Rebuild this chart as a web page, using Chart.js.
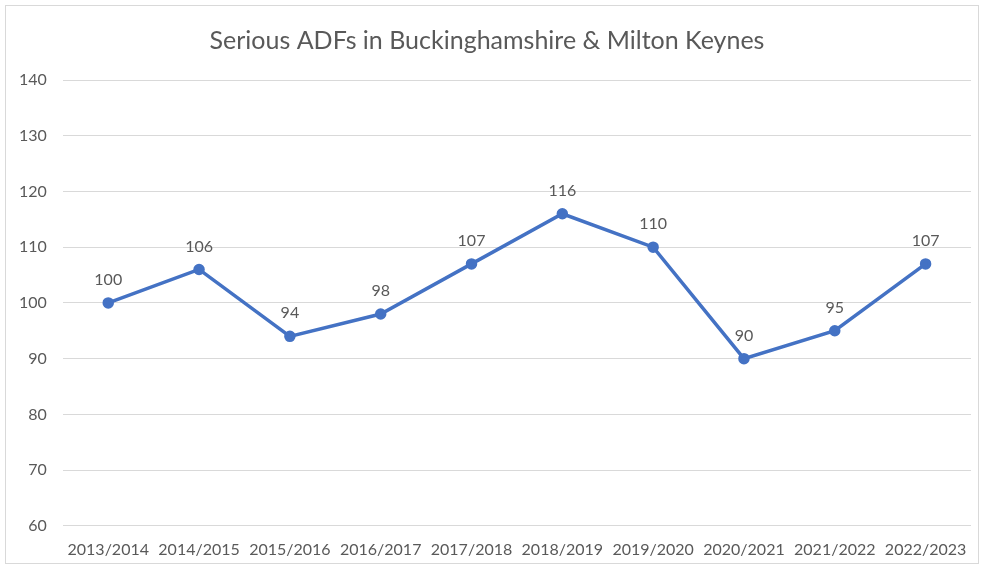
<!DOCTYPE html>
<html>
<head>
<meta charset="utf-8">
<script src="https://cdn.jsdelivr.net/npm/chart.js@4/dist/chart.umd.min.js"></script>
<style>
 html,body{margin:0;padding:0;background:#fff;}
 #wrap{position:absolute;left:0;top:0;width:984px;height:569px;}
 #frame{position:absolute;left:5px;top:5px;width:974px;height:559px;border:1px solid #d9d9d9;box-sizing:border-box;pointer-events:none;}
</style>
</head>
<body>
<div id="wrap">
 <canvas id="canvas_adf" width="984" height="569"></canvas>
 <div id="frame"></div>
</div>
<script>
/* data */
var years=['2013/2014','2014/2015','2015/2016','2016/2017','2017/2018','2018/2019','2019/2020','2020/2021','2021/2022','2022/2023'];
var adfs=[100,106,94,98,107,116,110,90,95,107];
var y_min=60, y_max=140, y_step=10;

var font_family="Lato, 'Open Sans', sans-serif";
var text_color='#595959';

/* value labels above each point */
var value_labels={
 id:'value_labels',
 afterDatasetsDraw:function(chart){
  var ctx=chart.ctx;
  var meta=chart.getDatasetMeta(0);
  var data=chart.data.datasets[0].data;
  ctx.save();
  ctx.font='16px '+font_family;
  ctx.fillStyle=text_color;
  ctx.textAlign='center';
  ctx.textBaseline='bottom';
  meta.data.forEach(function(pt,i){
   ctx.fillText(data[i],pt.x,pt.y-15);
  });
  ctx.restore();
 }
};

var ctx=document.getElementById('canvas_adf').getContext('2d');
var myChart=new Chart(ctx,{
 type:'line',
 data:{
  labels:years,
  datasets:[{
   label:'Serious ADFs',
   data:adfs,
   borderColor:'#4472C4',
   backgroundColor:'#4472C4',
   borderWidth:3.5,
   pointRadius:4,
   pointHoverRadius:4,
   tension:0,
   fill:false
  }]
 },
 options:{
  responsive:false,
  animation:false,
  devicePixelRatio:1,
  layout:{padding:{top:26,left:3,right:13,bottom:4}},
  plugins:{
   legend:{display:false},
   tooltip:{enabled:false},
   title:{
    display:true,
    text:'Serious ADFs in Buckinghamshire & Milton Keynes',
    color:text_color,
    font:{family:font_family,size:25,weight:'normal'},
    padding:{top:0,bottom:24}
   }
  },
  scales:{
   x:{
    offset:true,
    grid:{display:false},
    border:{display:false},
    ticks:{color:text_color,font:{family:font_family,size:16},padding:6,maxRotation:0}
   },
   y:{
    min:y_min,
    max:y_max,
    ticks:{stepSize:y_step,color:text_color,font:{family:font_family,size:16},padding:16},
    grid:{color:'#d9d9d9',lineWidth:1,drawTicks:false},
    border:{display:false}
   }
  }
 },
 plugins:[value_labels]
});
</script>
</body>
</html>
